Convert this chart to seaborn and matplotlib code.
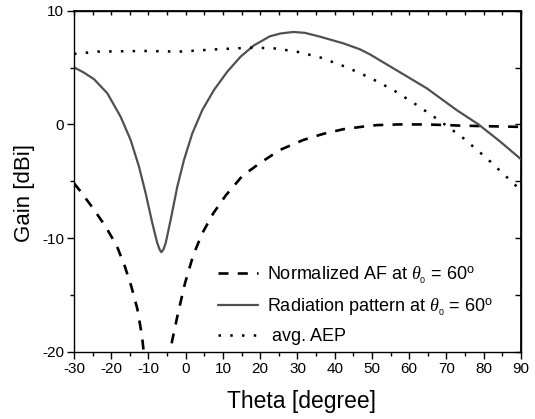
import matplotlib
matplotlib.use('Agg')
import matplotlib.pyplot as plt
import seaborn as sns

# ---- data ----
theta_af = [-30, -28.2, -24.9, -21.5, -18.5, -16.4, -14.6, -13.0, -11.74, -10.0, -7.5, -5.5, -3.69,
            -2.08, -0.2, 2.04, 4.45, 7.4, 10.72, 15.19, 19.9, 25.3, 31.6, 36.9, 42.3, 47.6, 51.3,
            57, 64.7, 73.6, 80, 88, 90]
gain_af = [-5.17, -5.9, -7.37, -8.98, -10.68, -12.43, -14.25, -16.2, -18.59, -24, -40, -24, -19.08,
           -16.6, -13.96, -11.47, -9.56, -7.81, -6.25, -4.53, -3.4, -2.24, -1.36, -0.83, -0.42, -0.19, -0.06,
           0.0, 0.0, -0.1, -0.15, -0.2, -0.22]

theta_rp = [-30, -27.3, -24.6, -21.05, -17.5, -14.8, -12.55, -10.76, -8.97, -7.63, -7.0, -6.55, -6.0,
            -5.39, -4.05, -2.26, -0.47, 1.77, 4.45, 7.58, 11.16, 14.74, 18.3, 22.6, 25.5, 28.9, 32.0,
            36.0, 42.3, 46.8, 49.5, 55.7, 64.7, 72.7, 78.6, 84.4, 90]
gain_rp = [5.02, 4.55, 3.97, 2.74, 0.69, -1.36, -3.71, -6.05, -8.68, -10.44, -11.0, -11.23, -11.0,
           -10.44, -8.39, -5.46, -3.12, -0.78, 1.27, 3.03, 4.64, 5.96, 6.95, 7.75, 8.0, 8.13, 8.05,
           7.72, 7.13, 6.6, 6.15, 4.94, 3.18, 1.27, 0.0, -1.5, -3.06]

theta_aep = [-30, -23.7, -11.2, -1.8, 8.0, 17.2, 23.5, 29.8, 36.0, 43.2, 49.5, 55.7, 62.0, 68.3,
             74.5, 80.8, 87.0, 90]
gain_aep = [6.2, 6.4, 6.46, 6.4, 6.6, 6.75, 6.7, 6.4, 5.9, 5.03, 4.1, 3.03, 1.71, 0.3,
            -1.2, -2.97, -4.88, -5.8]

labels = [r"Normalized AF at $\theta_{_0}$ = 60$^{\rm o}$",
          r"Radiation pattern at $\theta_{_0}$ = 60$^{\rm o}$",
          " avg. AEP"]
x_ticks = list(range(-30, 91, 10))
y_ticks = [-20, -10, 0, 10]

sns.set_theme(style='ticks')
plt.rcParams.update({
    'font.family': ['Liberation Sans', 'DejaVu Sans'],
    'mathtext.fontset': 'custom',
    'mathtext.rm': 'Liberation Sans',
    'mathtext.it': 'Liberation Serif:italic',
    'mathtext.bf': 'Liberation Sans:bold',
    'axes.unicode_minus': False,
    'axes.edgecolor': 'black',
    'xtick.color': 'black',
    'ytick.color': 'black',
    'text.color': 'black',
    'axes.labelcolor': 'black',
})

fig = plt.figure(figsize=(5.35, 4.19), dpi=100)
ax = fig.add_axes([0.1383, 0.160, 0.8355, 0.8145])

sns.lineplot(x=theta_af, y=gain_af, ax=ax, color='black', lw=1.9,
             linestyle=(0, (3.8, 3.5)), label=labels[0], sort=False)
sns.lineplot(x=theta_rp, y=gain_rp, ax=ax, color='#505050', lw=1.6,
             linestyle='-', label=labels[1], sort=False)
sns.lineplot(x=theta_aep, y=gain_aep, ax=ax, color='black', lw=1.8,
             linestyle=(0, (1.0, 3.7)), label=labels[2], sort=False)

ax.set_xlim(-30, 90)
ax.set_ylim(-20, 10)
ax.set_xticks(x_ticks)
ax.set_yticks(y_ticks)
ax.set_xticks(range(-25, 90, 10), minor=True)
ax.set_yticks([-15, -5, 5], minor=True)
ax.tick_params(which='major', direction='out', length=5, width=1, labelsize=11, pad=2)
ax.tick_params(which='minor', direction='out', length=3, width=1)
for s in ax.spines.values():
    s.set_linewidth(1.0)
    s.set_color('black')

secx = ax.secondary_xaxis('top')
secx.set_xticks(range(-30, 91, 5))
secx.tick_params(direction='in', length=3, width=1, labeltop=False)
secy = ax.secondary_yaxis('right')
secy.set_yticks(range(-20, 11, 5))
secy.tick_params(direction='in', length=4, width=1, labelright=False)

ax.set_xlabel('Theta [degree]', fontsize=16.5)
ax.set_ylabel('Gain [dBi]', fontsize=16)
ax.xaxis.set_label_coords(0.509, -0.11)
ax.yaxis.set_label_coords(-0.088, 0.465)

ax.legend(loc='lower left', bbox_to_anchor=(0.322, 0.02), frameon=False,
          fontsize=13, handlelength=2.2, handletextpad=0.5, labelspacing=0.55,
          borderpad=0, borderaxespad=0)

fig.savefig('out.png', dpi=100)
